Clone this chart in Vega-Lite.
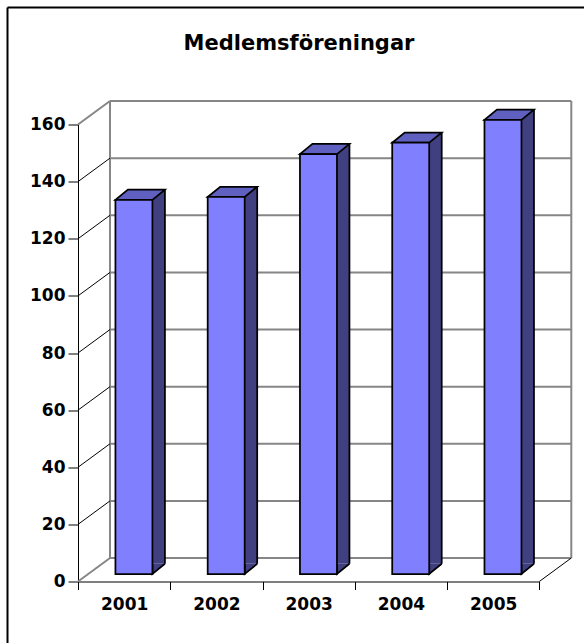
{
  "$schema": "https://vega.github.io/schema/vega-lite/v6.json",
  "width": 461.3,
  "height": 457,
  "autosize": {"type": "none"},
  "padding": {"left": 78, "top": 124.5, "right": 44.7, "bottom": 61.5},
  "background": "white",
  "config": {"view": {"stroke": null}, "font": "DejaVu Sans"},
  "title": {
    "text": "Medlemsföreningar",
    "font": "DejaVu Sans",
    "fontSize": 21,
    "fontWeight": "bold",
    "color": "black",
    "anchor": "middle",
    "frame": "group",
    "baseline": "alphabetic",
    "dx": -9.65,
    "offset": -64
  },
  "datasets": {
    "members": [
      {"year": 2001, "count": 131},
      {"year": 2002, "count": 132},
      {"year": 2003, "count": 147},
      {"year": 2004, "count": 151},
      {"year": 2005, "count": 159}
    ],
    "ticks": [
      {"v": 0}, {"v": 20}, {"v": 40}, {"v": 60}, {"v": 80},
      {"v": 100}, {"v": 120}, {"v": 140}, {"v": 160}
    ]
  },
  "layer": [
    {
      "data": {"name": "ticks"},
      "mark": {"type": "rule", "color": "#868686", "strokeWidth": 2, "xOffset": 32, "x2Offset": 32, "yOffset": -23.5},
      "encoding": {
        "x": {"datum": 2000.5, "type": "quantitative", "title": null},
        "x2": {"datum": 2005.5},
        "y": {"field": "v", "type": "quantitative", "title": null}
      }
    },
    {
      "data": {"name": "ticks"},
      "transform": [{"filter": "datum.v == 0"}],
      "mark": {"type": "rule", "color": "#868686", "strokeWidth": 2, "xOffset": 32, "yOffset": -23.5, "y2Offset": -23.5},
      "encoding": {
        "x": {"datum": 2000.5, "type": "quantitative", "title": null},
        "y": {"datum": 0, "type": "quantitative", "title": null},
        "y2": {"datum": 160}
      }
    },
    {
      "data": {"name": "ticks"},
      "transform": [{"filter": "datum.v == 0"}],
      "mark": {"type": "rule", "color": "#868686", "strokeWidth": 2, "xOffset": 32, "yOffset": -23.5, "y2Offset": -23.5},
      "encoding": {
        "x": {"datum": 2005.5, "type": "quantitative", "title": null},
        "y": {"datum": 0, "type": "quantitative", "title": null},
        "y2": {"datum": 160}
      }
    },
    {
      "data": {"name": "ticks"},
      "transform": [{"filter": "datum.v > 0 && datum.v < 160"}],
      "mark": {"type": "point", "shape": "M0,0L32,-23.5", "size": 4, "filled": false, "opacity": 1, "color": "black", "strokeWidth": 1},
      "encoding": {
        "x": {"datum": 2000.5, "type": "quantitative", "title": null},
        "y": {"field": "v", "type": "quantitative", "title": null}
      }
    },
    {
      "data": {"name": "ticks"},
      "transform": [{"filter": "datum.v == 0 || datum.v == 160"}],
      "mark": {"type": "point", "shape": "M0,0L32,-23.5", "size": 4, "filled": false, "opacity": 1, "color": "#868686", "strokeWidth": 2},
      "encoding": {
        "x": {"datum": 2000.5, "type": "quantitative", "title": null},
        "y": {"field": "v", "type": "quantitative", "title": null}
      }
    },
    {
      "data": {"name": "ticks"},
      "transform": [{"filter": "datum.v == 0"}],
      "mark": {"type": "point", "shape": "M0,0L32,-23.5", "size": 4, "filled": false, "opacity": 1, "color": "black", "strokeWidth": 1},
      "encoding": {
        "x": {"datum": 2005.5, "type": "quantitative", "title": null},
        "y": {"datum": 0, "type": "quantitative", "title": null}
      }
    },
    {
      "data": {"name": "members"},
      "mark": {"type": "bar", "orient": "vertical", "width": 37, "fill": "#404080", "strokeWidth": 0, "xOffset": 22.3, "yOffset": -17.7, "y2Offset": -17.7},
      "encoding": {
        "x": {"field": "year", "type": "quantitative", "title": null},
        "y": {"field": "count", "type": "quantitative", "title": null},
        "y2": {"datum": 0}
      }
    },
    {
      "data": {"name": "members"},
      "mark": {"type": "point", "shape": "M12.5,-10.2L0,0L0,-10.2", "size": 4, "filled": true, "opacity": 1, "fill": "#404080", "stroke": "black", "strokeWidth": 1.75, "xOffset": 28.3, "yOffset": -7.5},
      "encoding": {
        "x": {"field": "year", "type": "quantitative", "title": null},
        "y": {"datum": 0, "type": "quantitative", "title": null}
      }
    },
    {
      "data": {"name": "members"},
      "mark": {"type": "rule", "color": "black", "strokeWidth": 1.75, "xOffset": 40.8, "yOffset": -17.7, "y2Offset": -17.7},
      "encoding": {
        "x": {"field": "year", "type": "quantitative", "title": null},
        "y": {"field": "count", "type": "quantitative", "title": null},
        "y2": {"datum": 0}
      }
    },
    {
      "data": {"name": "members"},
      "mark": {"type": "point", "shape": "M0,0L37,0L49.5,-10.2L12.5,-10.2Z", "size": 4, "filled": true, "opacity": 1, "fill": "#6060C0", "stroke": "black", "strokeWidth": 1.75, "xOffset": -8.7, "yOffset": -7.5},
      "encoding": {
        "x": {"field": "year", "type": "quantitative", "title": null},
        "y": {"field": "count", "type": "quantitative", "title": null}
      }
    },
    {
      "data": {"name": "members"},
      "mark": {"type": "bar", "orient": "vertical", "width": 37, "fill": "#8080FF", "stroke": "black", "strokeWidth": 1.75, "xOffset": 9.8, "yOffset": -7.5, "y2Offset": -7.5},
      "encoding": {
        "x": {
          "field": "year",
          "type": "quantitative",
          "scale": {"domain": [2000.5, 2005.5], "nice": false, "zero": false, "padding": 0},
          "axis": {
            "title": null,
            "values": [2000.5, 2001.5, 2002.5, 2003.5, 2004.5, 2005.5],
            "labelExpr": "datum.value > 2005 ? '' : format(datum.value + 0.5, 'd')",
            "labelOffset": 46.13,
            "labelFlush": false,
            "labelOverlap": false,
            "labelBound": false,
            "grid": false,
            "tickSize": 8,
            "tickColor": "black",
            "domainColor": "black",
            "labelColor": "black",
            "labelFont": "DejaVu Sans",
            "labelFontSize": 17,
            "labelFontWeight": "bold",
            "labelPadding": 7
          }
        },
        "y": {
          "field": "count",
          "type": "quantitative",
          "scale": {"domain": [0, 160], "nice": false, "zero": true, "padding": 0},
          "axis": {
            "title": null,
            "values": [0, 20, 40, 60, 80, 100, 120, 140, 160],
            "grid": false,
            "tickSize": 10,
            "tickColor": "black",
            "domainColor": "black",
            "labelColor": "black",
            "labelFont": "DejaVu Sans",
            "labelFontSize": 17,
            "labelFontWeight": "bold",
            "labelPadding": 3
          }
        },
        "y2": {"datum": 0}
      }
    },
    {
      "data": {"name": "ticks"},
      "transform": [{"filter": "datum.v == 0"}],
      "mark": {"type": "rule", "color": "black", "strokeWidth": 2, "xOffset": -70.5, "yOffset": -117, "y2Offset": 80},
      "encoding": {
        "x": {"datum": 2000.5, "type": "quantitative", "title": null},
        "y": {"datum": 160, "type": "quantitative", "title": null},
        "y2": {"datum": 0}
      }
    },
    {
      "data": {"name": "ticks"},
      "transform": [{"filter": "datum.v == 0"}],
      "mark": {"type": "rule", "color": "black", "strokeWidth": 2, "xOffset": -70.5, "x2Offset": 60, "yOffset": -117},
      "encoding": {
        "x": {"datum": 2000.5, "type": "quantitative", "title": null},
        "x2": {"datum": 2005.5},
        "y": {"datum": 160, "type": "quantitative", "title": null}
      }
    }
  ]
}
